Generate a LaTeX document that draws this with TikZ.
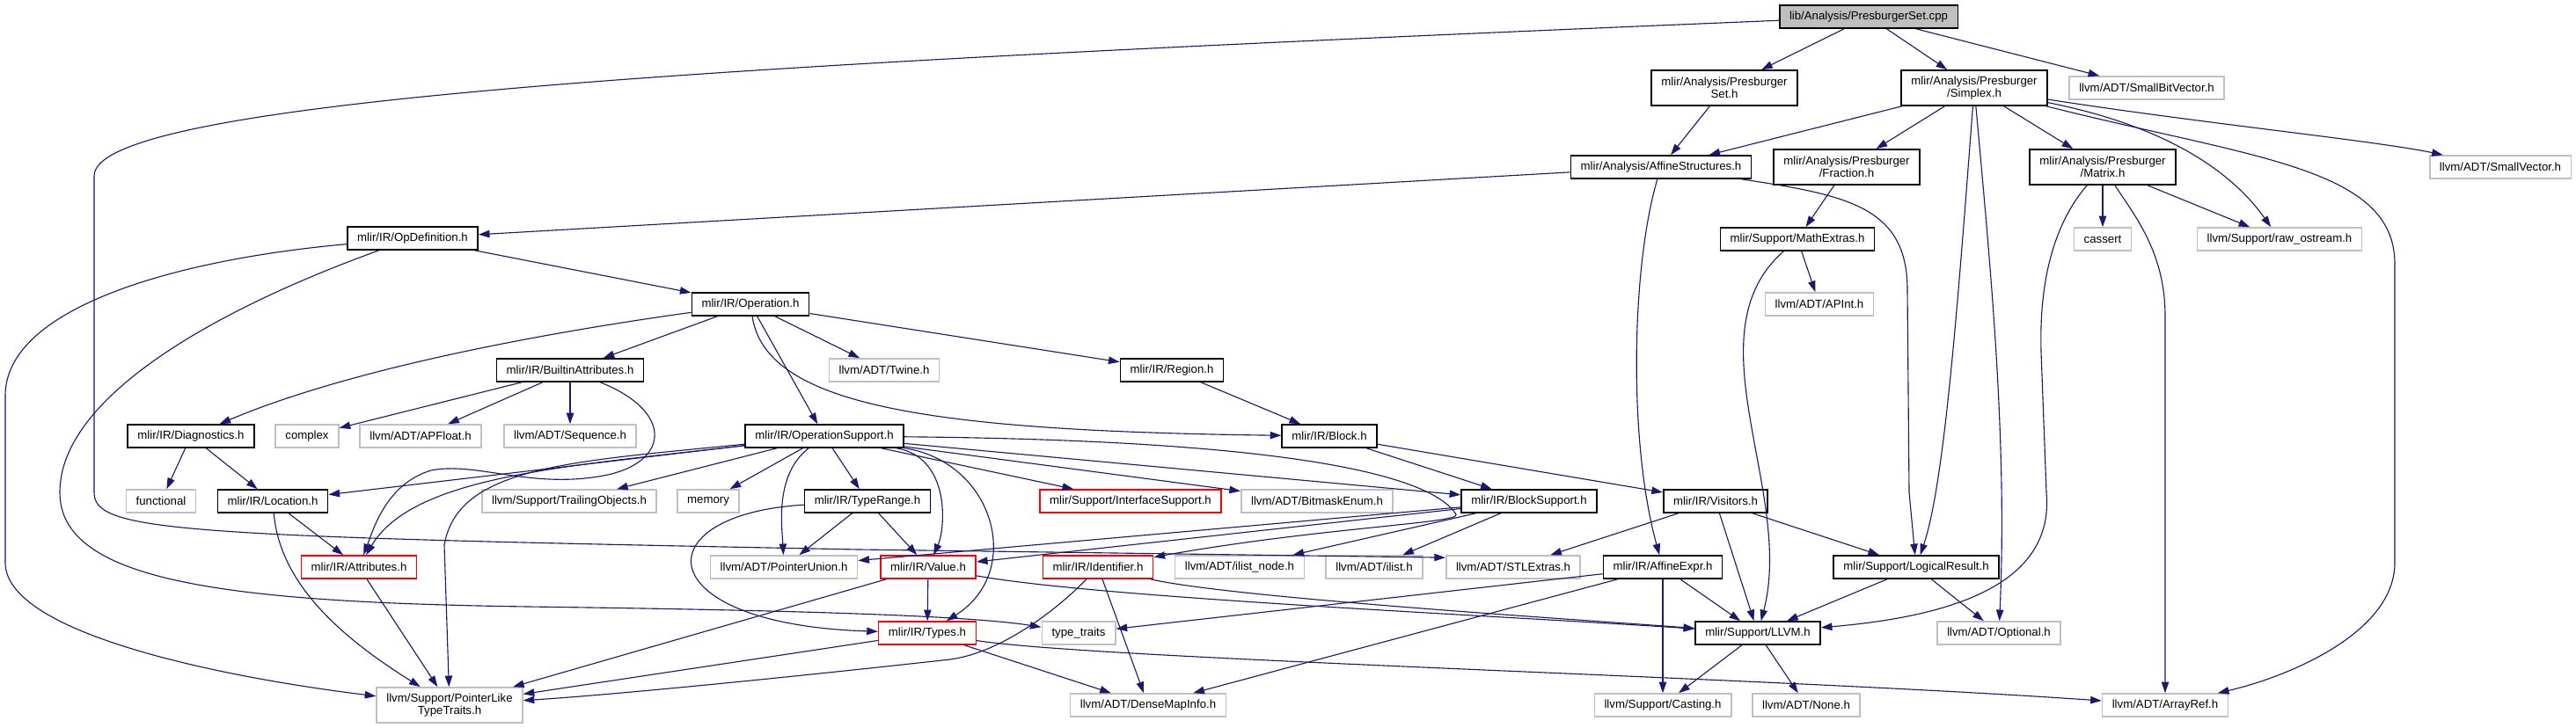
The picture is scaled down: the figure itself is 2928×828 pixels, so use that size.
\documentclass[tikz,border=0pt]{standalone}
\usepackage{fontspec}
\setmainfont{Liberation Sans}
\usepackage{tikz}
\usetikzlibrary{arrows.meta}
\definecolor{myblue}{RGB}{25,25,112}
\definecolor{mygrey}{RGB}{191,191,191}
\definecolor{myred}{RGB}{255,0,0}
\tikzset{
  filebox/.style={rectangle, draw=black, fill=white, align=center,
    inner xsep=8pt, inner ysep=2pt, minimum height=18.5pt,
    font=\fontsize{9.4}{10.2}\selectfont, line width=1.1pt},
  sysbox/.style={filebox, draw=mygrey},
  redbox/.style={filebox, draw=myred},
  rootbox/.style={filebox, fill=mygrey},
  twoline/.style={minimum height=28.5pt},
  dep/.style={-{Triangle[length=9pt,width=6pt]}, color=myblue, line width=0.8pt}
}
\begin{document}
\begin{tikzpicture}[x=0.025cm, y=-0.025cm]
  \useasboundingbox (0,0) rectangle (2928,828);
  \node[rootbox] (cpp) at (2124,19) {lib/Analysis/PresburgerSet.cpp};
  \node[filebox, twoline] (pset) at (1960,100) {mlir/Analysis/Presburger\\Set.h};
  \node[filebox, twoline] (simplex) at (2244,100) {mlir/Analysis/Presburger\\/Simplex.h};
  \node[sysbox] (smallbit) at (2440,100) {llvm/ADT/SmallBitVector.h};
  \node[filebox] (affstruct) at (1888,190) {mlir/Analysis/AffineStructures.h};
  \node[filebox, twoline] (fraction) at (2099,190) {mlir/Analysis/Presburger\\/Fraction.h};
  \node[filebox, twoline] (matrix) at (2390,190) {mlir/Analysis/Presburger\\/Matrix.h};
  \node[sysbox] (smallvec) at (2842,190) {llvm/ADT/SmallVector.h};
  \node[filebox] (opdef) at (469,271) {mlir/IR/OpDefinition.h};
  \node[filebox] (mathext) at (2043,272) {mlir/Support/MathExtras.h};
  \node[sysbox] (cassert) at (2390,272) {cassert};
  \node[sysbox] (rawos) at (2591,272) {llvm/Support/raw\_ostream.h};
  \node[filebox] (operation) at (853,346) {mlir/IR/Operation.h};
  \node[sysbox] (apint) at (2068,346) {llvm/ADT/APInt.h};
  \node[filebox] (builtin) at (648,421) {mlir/IR/BuiltinAttributes.h};
  \node[sysbox] (twine) at (1005,421) {llvm/ADT/Twine.h};
  \node[filebox] (region) at (1332,421) {mlir/IR/Region.h};
  \node[filebox] (diag) at (217,496) {mlir/IR/Diagnostics.h};
  \node[sysbox] (complex) at (349,496) {complex};
  \node[sysbox] (apfloat) at (478,496) {llvm/ADT/APFloat.h};
  \node[sysbox] (sequence) at (648,496) {llvm/ADT/Sequence.h};
  \node[filebox] (opsupport) at (937,496) {mlir/IR/OperationSupport.h};
  \node[filebox] (block) at (1511,496) {mlir/IR/Block.h};
  \node[sysbox] (functional) at (183,570) {functional};
  \node[filebox] (location) at (310,570) {mlir/IR/Location.h};
  \node[sysbox] (trailing) at (647,570) {llvm/Support/TrailingObjects.h};
  \node[sysbox] (memory) at (805,570) {memory};
  \node[filebox] (typerange) at (986,570) {mlir/IR/TypeRange.h};
  \node[redbox] (ifsupport) at (1285,570) {mlir/Support/InterfaceSupport.h};
  \node[sysbox] (bitmask) at (1497,570) {llvm/ADT/BitmaskEnum.h};
  \node[filebox] (blocksup) at (1738,570) {mlir/IR/BlockSupport.h};
  \node[filebox] (visitors) at (1950,570) {mlir/IR/Visitors.h};
  \node[redbox] (attrs) at (408,645) {mlir/IR/Attributes.h};
  \node[sysbox] (ptrunion) at (891,645) {llvm/ADT/PointerUnion.h};
  \node[redbox] (value) at (1055,645) {mlir/IR/Value.h};
  \node[redbox] (ident) at (1248,645) {mlir/IR/Identifier.h};
  \node[sysbox] (ilistnode) at (1409,645) {llvm/ADT/ilist\_node.h};
  \node[sysbox] (ilist) at (1562,645) {llvm/ADT/ilist.h};
  \node[sysbox] (stlextras) at (1720,645) {llvm/ADT/STLExtras.h};
  \node[filebox] (affexpr) at (1890,645) {mlir/IR/AffineExpr.h};
  \node[filebox] (logical) at (2178,645) {mlir/Support/LogicalResult.h};
  \node[redbox] (types) at (1054,720) {mlir/IR/Types.h};
  \node[sysbox] (typetraits) at (1226,720) {type\_traits};
  \node[filebox] (llvmh) at (1998,720) {mlir/Support/LLVM.h};
  \node[sysbox] (optional) at (2272,720) {llvm/ADT/Optional.h};
  \node[sysbox, twoline] (pltt) at (511,802) {llvm/Support/PointerLike\\TypeTraits.h};
  \node[sysbox] (densemap) at (1305,802) {llvm/ADT/DenseMapInfo.h};
  \node[sysbox] (casting) at (1890,802) {llvm/Support/Casting.h};
  \node[sysbox] (none) at (2053,802) {llvm/ADT/None.h};
  \node[sysbox] (arrayref) at (2461,802) {llvm/ADT/ArrayRef.h};

  \foreach \a/\b in {cpp/pset, cpp/simplex, cpp/smallbit, pset/affstruct, simplex/affstruct,
    simplex/fraction, simplex/matrix, fraction/mathext, mathext/apint, matrix/cassert,
    matrix/rawos, affstruct/opdef, opdef/operation, operation/builtin, operation/opsupport,
    operation/twine, operation/region, builtin/complex, builtin/apfloat, builtin/sequence,
    diag/functional, diag/location, location/attrs, attrs/pltt, opsupport/location,
    opsupport/trailing, opsupport/memory, opsupport/typerange, opsupport/ifsupport,
    opsupport/bitmask, opsupport/blocksup, region/block, block/blocksup, block/visitors,
    typerange/ptrunion, typerange/value, value/types, value/pltt, ident/densemap,
    types/pltt, types/densemap, blocksup/ptrunion, blocksup/value, blocksup/ilistnode,
    blocksup/ilist, visitors/stlextras, visitors/llvmh, visitors/logical, affexpr/typetraits,
    affexpr/densemap, affexpr/casting, affexpr/llvmh, logical/llvmh, logical/optional,
    llvmh/casting, llvmh/none}
    \draw[dep] (\a) -- (\b);

  \draw[dep] (cpp) .. controls (900,70) and (107,110) .. (107,200) -- (107,560)
    .. controls (107,605) and (200,610) .. (976,625) -- (stlextras.172);
  \draw[dep] (simplex) .. controls (2225,350) and (2210,550) .. (logical);
  \draw[dep] (simplex) .. controls (2262,300) and (2282,500) .. (optional);
  \draw[dep] (simplex) .. controls (2470,145) and (2540,200) .. (rawos);
  \draw[dep] (simplex) .. controls (2560,180) and (2722,190) .. (2722,300) -- (2722,640)
    .. controls (2722,720) and (2600,770) .. (arrayref);
  \draw[dep] (simplex) .. controls (2500,140) and (2700,160) .. (smallvec);
  \draw[dep] (mathext) .. controls (1920,380) and (2040,560) .. (llvmh);
  \draw[dep] (matrix) .. controls (2330,260) and (2318,330) .. (2320,400) -- (2326,560)
    .. controls (2335,660) and (2230,700) .. (llvmh);
  \draw[dep] (matrix) .. controls (2430,250) and (2461,290) .. (2461,360) -- (arrayref);
  \draw[dep] (affstruct) .. controls (2100,222) and (2168,235) .. (2168,330) -- (2170,560) -- (logical);
  \draw[dep] (affstruct) .. controls (1855,300) and (1850,500) .. (affexpr);
  \draw[dep] (opdef) .. controls (200,295) and (6,350) .. (6,450) -- (6,640)
    .. controls (6,720) and (250,770) .. (pltt);
  \draw[dep] (opdef) .. controls (250,350) and (68,450) .. (68,560)
    .. controls (68,660) and (250,685) .. (600,690)
    .. controls (900,694) and (1100,700) .. (typetraits);
  \draw[dep] (operation) .. controls (680,370) and (420,410) .. (diag);
  \draw[dep] (operation) .. controls (870,460) and (1050,490) .. (block);
  \draw[dep] (builtin) .. controls (770,470) and (760,530) .. (680,542)
    .. controls (600,555) and (540,525) .. (490,535)
    .. controls (440,550) and (425,600) .. (attrs);
  \draw[dep] (location) .. controls (318,660) and (380,720) .. (pltt);
  \draw[dep] (opsupport) .. controls (650,530) and (470,540) .. (attrs);
  \draw[dep] (opsupport) .. controls (650,525) and (520,530) .. (505,620) -- (pltt);
  \draw[dep] (opsupport) .. controls (880,540) and (889,600) .. (ptrunion);
  \draw[dep] (opsupport) .. controls (1080,520) and (1075,600) .. (value);
  \draw[dep] (opsupport) .. controls (1130,525) and (1165,650) .. (types);
  \draw[dep] (opsupport) .. controls (1400,500) and (1620,530) .. (1655,585)
    .. controls (1662,595) and (1500,600) .. (ident);
  \draw[dep] (typerange) .. controls (730,585) and (735,710) .. (types);
  \draw[dep] (value) .. controls (1250,680) and (1700,700) .. (llvmh);
  \draw[dep] (ident) .. controls (1400,680) and (1800,705) .. (llvmh);
  \draw[dep] (ident) .. controls (1205,690) and (1140,742) .. (1080,750)
    .. controls (900,770) and (700,790) .. (pltt);
  \draw[dep] (types) .. controls (1250,750) and (2000,770) .. (arrayref);
\end{tikzpicture}
\end{document}
